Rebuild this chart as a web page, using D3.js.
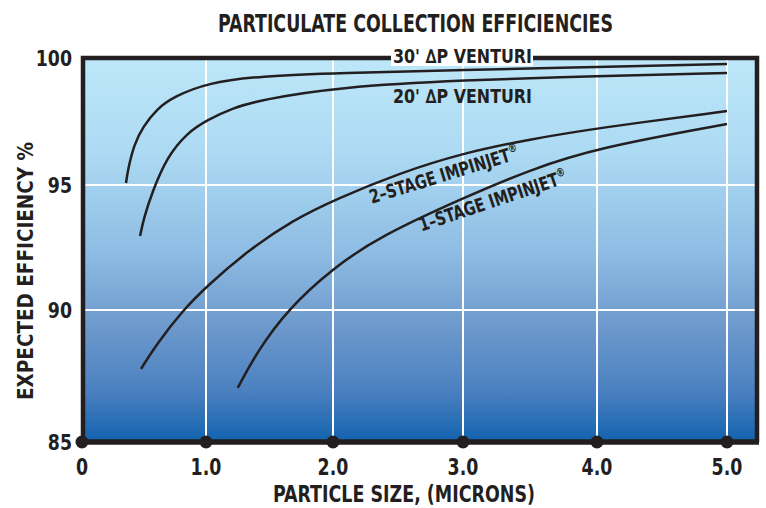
<!DOCTYPE html>
<html>
<head>
<meta charset="utf-8">
<script src="https://cdn.jsdelivr.net/npm/d3@7/dist/d3.min.js"></script>
<style>
  html, body { margin: 0; padding: 0; background: #ffffff; }
  svg { display: block; }
  text { font-family: 'Liberation Sans Narrow', 'DejaVu Sans Condensed', 'Roboto Condensed', Roboto, sans-serif; font-weight: bold; fill: #231f20; }
</style>
</head>
<body>
<svg id="chart" width="766" height="508"></svg>
<script>
// ---- data ----
const xTicks = [0, 1, 2, 3, 4, 5];
const xTickLabels = ["0", "1.0", "2.0", "3.0", "4.0", "5.0"];
const yTicks = [85, 90, 95, 100];
const yTickLabels = ["85", "90", "95", "100"];
const yGrid = [90, 95];

const venturi30Size = [0.355, 0.37, 0.42, 0.492, 0.605, 0.734, 1.008, 1.425, 2.054, 3.0, 4.0, 5.0];
const venturi30Eff  = [95.08, 95.6, 96.6, 97.3, 98.0, 98.46, 99.02, 99.29, 99.41, 99.53, 99.65, 99.76];

const venturi20Size = [0.468, 0.5, 0.565, 0.685, 0.847, 1.008, 1.213, 1.425, 2.054, 3.0, 4.0, 5.0];
const venturi20Eff  = [92.96, 93.7, 94.7, 96.10, 97.05, 97.56, 98.03, 98.35, 98.86, 99.13, 99.29, 99.41];

const impinjet2Size = [0.476, 0.6, 0.815, 1.008, 1.323, 1.685, 2.03, 2.5, 3.0, 3.5, 4.0, 5.0];
const impinjet2Eff  = [87.77, 88.7, 90.0, 90.96, 92.35, 93.6, 94.45, 95.45, 96.26, 96.8, 97.24, 97.91];

const impinjet1Size = [1.25, 1.4, 1.638, 2.0, 2.362, 3.0, 3.5, 4.0, 5.0];
const impinjet1Eff  = [87.05, 88.4, 90.0, 91.68, 92.95, 94.48, 95.6, 96.46, 97.4];

const titleText = "PARTICULATE COLLECTION EFFICIENCIES";
const xTitle = "PARTICLE SIZE, (MICRONS)";
const yTitle = "EXPECTED EFFICIENCY %";
const label30 = "30' \u2206P VENTURI";
const label20 = "20' \u2206P VENTURI";
const label2 = "2\u2013STAGE IMPINJET";
const label1 = "1\u2013STAGE IMPINJET";

// ---- drawing ----
const svg = d3.select("#chart");
const x = d3.scaleLinear().domain(xTicks).range([82, 206, 333, 463, 597, 727]);
const y = d3.scaleLinear().domain(yTicks).range([442, 310, 185, 58]);
const plotLeft = 82, plotRight = 757, plotTop = 58, plotBottom = 442;

const defs = svg.append("defs");
const grad = defs.append("linearGradient").attr("id", "bg").attr("x1", 0).attr("y1", 0).attr("x2", 0).attr("y2", 1);
[[0, "#bde7f9"], [0.25, "#acdaf3"], [0.5, "#8fbde4"], [0.7, "#6d99cc"], [0.87, "#4a80c0"], [1, "#1262ae"]]
  .forEach(([o, c]) => grad.append("stop").attr("offset", o).attr("stop-color", c));

svg.append("rect").attr("x", plotLeft).attr("y", plotTop)
  .attr("width", plotRight - plotLeft).attr("height", plotBottom - plotTop)
  .attr("fill", "url(#bg)");

// grid
svg.append("g").selectAll("line").data(xTicks.slice(1)).join("line")
  .attr("x1", d => x(d)).attr("x2", d => x(d))
  .attr("y1", plotTop).attr("y2", plotBottom)
  .attr("stroke", "#ffffff").attr("stroke-width", 2);
svg.append("g").selectAll("line").data(yGrid).join("line")
  .attr("x1", plotLeft).attr("x2", plotRight)
  .attr("y1", d => y(d)).attr("y2", d => y(d))
  .attr("stroke", "#ffffff").attr("stroke-width", 2);

// curves
const line = d3.line().x(d => x(d[0])).y(d => y(d[1])).curve(d3.curveBasis);
const series = [
  [venturi30Size, venturi30Eff],
  [venturi20Size, venturi20Eff],
  [impinjet2Size, impinjet2Eff],
  [impinjet1Size, impinjet1Eff]
];
svg.append("g").selectAll("path").data(series).join("path")
  .attr("d", s => line(d3.zip(s[0], s[1])))
  .attr("fill", "none").attr("stroke", "#231f20").attr("stroke-width", 2.5);

// frame
const frame = svg.append("g").attr("stroke", "#231f20").attr("fill", "none");
frame.append("path")
  .attr("d", `M${plotLeft + 1},${plotBottom} V${plotTop} H${plotRight} V${plotBottom}`)
  .attr("stroke-width", 4.5);
frame.append("line").attr("x1", plotLeft).attr("x2", plotRight + 2)
  .attr("y1", plotBottom).attr("y2", plotBottom).attr("stroke-width", 5.5);

// dots
svg.append("g").selectAll("circle").data(xTicks).join("circle")
  .attr("cx", d => x(d)).attr("cy", plotBottom).attr("r", 6.5).attr("fill", "#231f20");

// x tick labels (condensed)
svg.append("g").selectAll("text").data(xTicks).join("text")
  .attr("transform", d => `translate(${x(d)},475) scale(0.84,1)`)
  .attr("text-anchor", "middle").attr("font-size", 23)
  .text((d, i) => xTickLabels[i]);

// y tick labels
svg.append("g").selectAll("text").data(yTicks).join("text")
  .attr("transform", d => `translate(72,${y(d) + 7.5}) scale(0.92,1)`)
  .attr("text-anchor", "end").attr("font-size", 21)
  .text((d, i) => yTickLabels[i]);

// titles
svg.append("text").attr("x", 415.5).attr("y", 32).attr("text-anchor", "middle")
  .attr("font-size", 25).attr("textLength", 395).attr("lengthAdjust", "spacingAndGlyphs")
  .text(titleText);
svg.append("text").attr("x", 404).attr("y", 502).attr("text-anchor", "middle")
  .attr("font-size", 23).attr("textLength", 262).attr("lengthAdjust", "spacingAndGlyphs")
  .text(xTitle);
svg.append("text").attr("transform", "translate(33,271) rotate(-90)").attr("text-anchor", "middle")
  .attr("font-size", 21).attr("textLength", 258).attr("lengthAdjust", "spacingAndGlyphs")
  .text(yTitle);

// curve labels
svg.append("rect").attr("x", 391).attr("y", 46).attr("width", 142).attr("height", 20).attr("fill", "#ffffff");
svg.append("text").attr("x", 393).attr("y", 63).attr("font-size", 19)
  .attr("textLength", 139).attr("lengthAdjust", "spacingAndGlyphs").text(label30);
svg.append("text").attr("x", 393).attr("y", 103).attr("font-size", 19)
  .attr("textLength", 139).attr("lengthAdjust", "spacingAndGlyphs").text(label20);

function rotLabel(txt, cx, cy, ang) {
  const t = svg.append("text").attr("transform", `translate(${cx},${cy}) rotate(${ang}) scale(0.84,1)`)
    .attr("text-anchor", "middle").attr("font-size", 19);
  t.append("tspan").text(txt);
  t.append("tspan").attr("font-size", 12).attr("dy", -8).text("\u00AE");
}
rotLabel(label2, 446, 181, -17);
rotLabel(label1, 495, 207, -18.5);
</script>
</body>
</html>
